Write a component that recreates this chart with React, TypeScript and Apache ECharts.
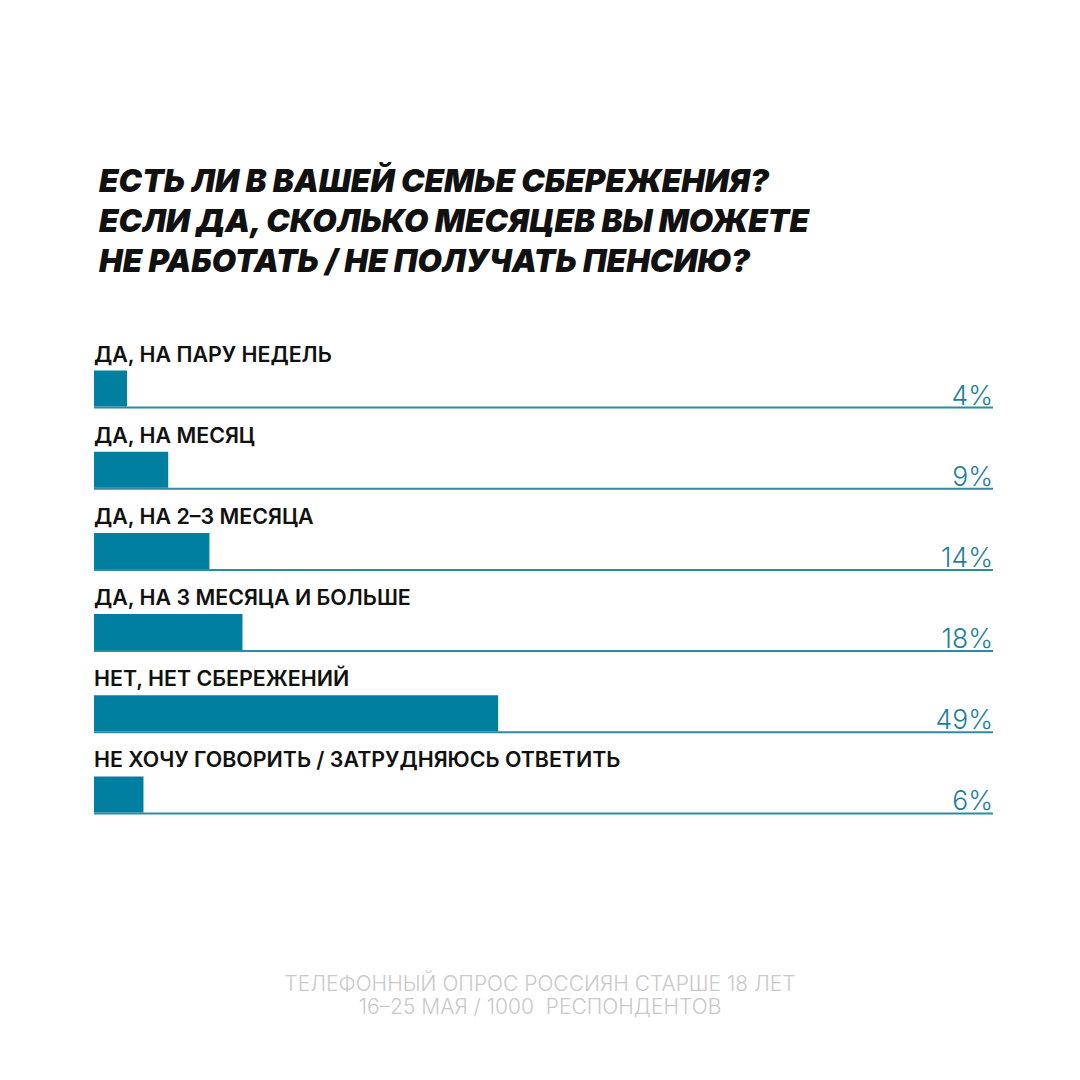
import React, { useEffect, useRef } from "react";
import * as echarts from "echarts";

const titleLines = [
  "ЕСТЬ ЛИ В ВАШЕЙ СЕМЬЕ СБЕРЕЖЕНИЯ?",
  "ЕСЛИ ДА, СКОЛЬКО МЕСЯЦЕВ ВЫ МОЖЕТЕ",
  "НЕ РАБОТАТЬ / НЕ ПОЛУЧАТЬ ПЕНСИЮ?",
];
const categories = [
  "ДА, НА ПАРУ НЕДЕЛЬ",
  "ДА, НА МЕСЯЦ",
  "ДА, НА 2–3 МЕСЯЦА",
  "ДА, НА 3 МЕСЯЦА И БОЛЬШЕ",
  "НЕТ, НЕТ СБЕРЕЖЕНИЙ",
  "НЕ ХОЧУ ГОВОРИТЬ / ЗАТРУДНЯЮСЬ ОТВЕТИТЬ",
];
const values = [4, 9, 14, 18, 49, 6];
const footerLines = [
  "ТЕЛЕФОННЫЙ ОПРОС РОССИЯН СТАРШЕ 18 ЛЕТ",
  "16–25 МАЯ / 1000  РЕСПОНДЕНТОВ",
];
const axisMax = 109;

const BAR_COLOR = "#007fa1";
const LINE_COLOR = "#2e8ca0";
const VALUE_COLOR = "#1f7f98";

export default function App() {
  const ref = useRef<HTMLDivElement>(null);
  useEffect(() => {
    if (!ref.current) return;
    const chart = echarts.init(ref.current, null, { renderer: "svg" });
    chart.setOption({
      animation: false,
      backgroundColor: "#ffffff",
      title: {
        text: titleLines.join("\n"),
        left: 94,
        top: 155,
        textStyle: {
          fontFamily: "Inter, Roboto, 'Noto Sans', sans-serif",
          fontWeight: 900,
          fontStyle: "italic",
          fontSize: 31.5,
          lineHeight: 40,
          color: "#111111",
        },
      },
      grid: { left: 94, right: 87, top: 348, height: 487, containLabel: false },
      xAxis: { type: "value", min: 0, max: axisMax, show: false },
      yAxis: {
        type: "category",
        data: categories,
        inverse: true,
        show: false,
      },
      series: [
        {
          type: "custom",
          z: 1,
          encode: { x: 1, y: 0 },
          data: values.map((v, i) => [i, v]),
          renderItem: (params: any, api: any) => {
            const idx = api.value(0);
            const start = api.coord([0, idx]);
            const end = api.coord([axisMax, idx]);
            const yc = start[1];
            return {
              type: "group",
              children: [
                {
                  type: "line",
                  shape: { x1: start[0], y1: yc + 19, x2: end[0], y2: yc + 19 },
                  style: { stroke: LINE_COLOR, lineWidth: 2 },
                },
                {
                  type: "text",
                  x: start[0],
                  y: yc - 35,
                  style: {
                    text: categories[idx],
                    fill: "#111111",
                    font: "600 21.4px Inter, 'Noto Sans', sans-serif",
                    textAlign: "left",
                    textVerticalAlign: "middle",
                  },
                },
                {
                  type: "text",
                  x: end[0],
                  y: yc + 6,
                  style: {
                    text: values[idx] + "%",
                    fill: VALUE_COLOR,
                    font: "300 26.5px Inter, 'Noto Sans', sans-serif",
                    textAlign: "right",
                    textVerticalAlign: "middle",
                  },
                },
              ],
            };
          },
        },
        {
          type: "bar",
          z: 2,
          data: values,
          barWidth: 36,
          itemStyle: { color: BAR_COLOR },
        },
      ],
      graphic: footerLines.map((t, i) => ({
        type: "text",
        x: 540,
        y: 983 + i * 23,
        style: {
          text: t,
          fill: "#c9c9c9",
          font: "300 21px Inter, 'Noto Sans', sans-serif",
          textAlign: "center",
          textVerticalAlign: "middle",
        },
      })),
    });
    return () => chart.dispose();
  }, []);
  return (
    <div
      ref={ref}
      style={{ position: "absolute", left: 0, top: 0, width: 1080, height: 1080 }}
    />
  );
}
